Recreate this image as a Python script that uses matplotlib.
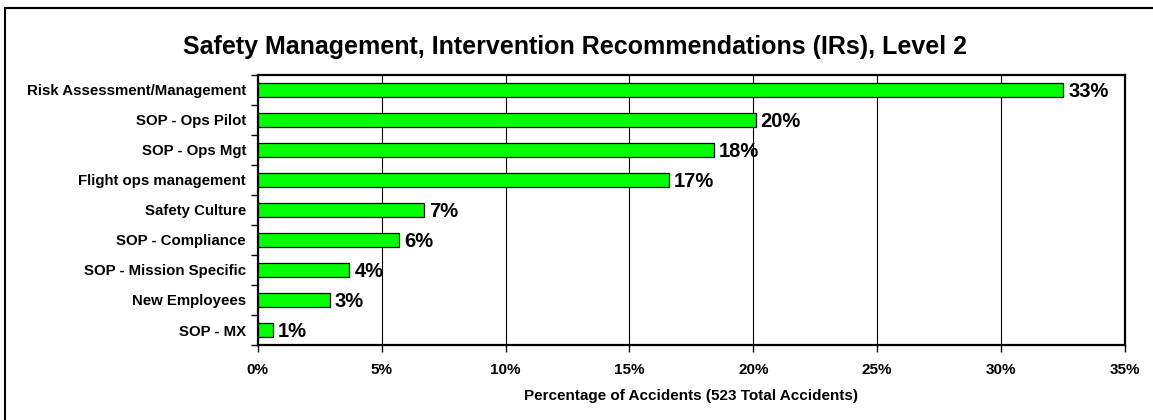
import matplotlib
matplotlib.use("Agg")
import matplotlib.pyplot as plt
from matplotlib.patches import Rectangle
from matplotlib.ticker import MultipleLocator, PercentFormatter, FixedLocator

plt.rcParams["font.family"] = ["Liberation Sans", "DejaVu Sans"]
plt.rcParams["font.weight"] = "bold"

categories = [
    "Risk Assessment/Management",
    "SOP - Ops Pilot",
    "SOP - Ops Mgt",
    "Flight ops management",
    "Safety Culture",
    "SOP - Compliance",
    "SOP - Mission Specific",
    "New Employees",
    "SOP - MX",
]
values = [32.5, 20.1, 18.4, 16.6, 6.7, 5.7, 3.7, 2.9, 0.6]
labels = ["33%", "20%", "18%", "17%", "7%", "6%", "4%", "3%", "1%"]

W, H = 1153, 420
fig = plt.figure(figsize=(W / 100, H / 100), dpi=100)
ax = fig.add_axes([257.7 / W, 1 - 345 / H, (1125 - 257.7) / W, 270 / H])

y = list(range(len(categories)))
ax.barh(y, values, height=0.45, color="#00ff00", edgecolor="black", linewidth=0.9, zorder=3)
for yi, v, lab in zip(y, values, labels):
    ax.text(v + 0.2, yi + 0.05, lab, va="center", ha="left", fontsize=14.5, fontweight="bold", zorder=4)

ax.set_xlim(0, 35)
ax.set_ylim(len(categories) - 0.5, -0.5)
ax.xaxis.set_major_locator(MultipleLocator(5))
ax.xaxis.set_major_formatter(PercentFormatter(decimals=0))
ax.set_yticks(y)
ax.set_yticklabels(categories)
ax.yaxis.set_minor_locator(FixedLocator([i - 0.5 for i in range(len(categories) + 1)]))
ax.tick_params(axis="y", which="major", length=0, pad=8.5, labelsize=10.8)
ax.tick_params(axis="y", which="minor", length=5, width=1, direction="out")
ax.tick_params(axis="x", which="major", length=5, width=1, direction="out", pad=8, labelsize=11)
for lab in ax.get_xticklabels() + ax.get_yticklabels():
    lab.set_fontweight("bold")

ax.grid(axis="x", color="black", linewidth=0.8, zorder=0)
for sp in ax.spines.values():
    sp.set_linewidth(1.6)

ax.set_xlabel("Percentage of Accidents (523 Total Accidents)", fontsize=11, fontweight="bold", labelpad=8.5)
fig.text(575 / W, 1 - 47 / H, "Safety Management, Intervention Recommendations (IRs), Level 2",
         ha="center", va="center", fontsize=18, fontweight="bold")

# outer frame: only left and top edges fall inside the picture
fig.patches.append(Rectangle((5 / W, -20 / H), 1200 / W, 432 / H, transform=fig.transFigure,
                             fill=False, edgecolor="black", linewidth=1.5))

fig.savefig("out.png", dpi=100)
plt.close(fig)
